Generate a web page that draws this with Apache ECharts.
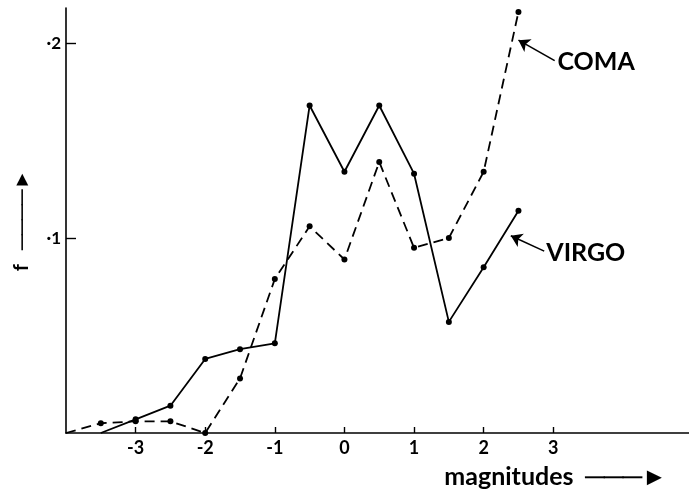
<!DOCTYPE html>
<html>
<head>
<meta charset="utf-8">
<script src="https://cdn.jsdelivr.net/npm/echarts@6/dist/echarts.min.js"></script>
<style>
  html, body { margin: 0; padding: 0; background: #fff; }
  #main { width: 689px; height: 492px; }
</style>
</head>
<body>
<div id="main"></div>
<script>
// magnitude bins and fraction f for each cluster
var virgoMag = [-3.5, -3, -2.5, -2, -1.5, -1, -0.5, 0, 0.5, 1, 1.5, 2, 2.5];
var virgoF = [0, 0.007, 0.014, 0.038, 0.043, 0.046, 0.168, 0.134, 0.168, 0.133, 0.057, 0.085, 0.114];
var comaMag = [-4, -3.5, -3, -2.5, -2, -1.5, -1, -0.5, 0, 0.5, 1, 1.5, 2, 2.5];
var comaF = [0, 0.005, 0.006, 0.006, 0, 0.028, 0.079, 0.106, 0.089, 0.139, 0.095, 0.1, 0.134, 0.216];
var xTicks = [-3, -2, -1, 0, 1, 2, 3];
var yTicks = [0.1, 0.2];

var font = 'Lato';

function pairs(xs, ys) {
    return xs.map(function (x, i) {
        var item = { value: [x, ys[i]] };
        if (i === 0) item.symbol = 'none';   // curve starts on the axis, no dot
        return item;
    });
}

var arrowLine = {
    silent: true,
    symbol: ['none', 'arrow'],
    symbolSize: 11,
    label: { show: false },
    lineStyle: { color: '#000', type: 'solid', width: 1.6 },
    emphasis: { disabled: true }
};

var tagLabel = {
    show: true,
    position: 'right',
    distance: 0,
    color: '#000',
    fontFamily: font,
    fontWeight: 'bold',
    fontSize: 25,
    formatter: '{b}'
};

var option = {
    animation: false,
    backgroundColor: '#fff',
    grid: { left: 66, right: 0, top: 8, bottom: 59, containLabel: false, outerBoundsMode: 'none' },
    xAxis: {
        type: 'value',
        min: -4,
        max: 4.95,
        interval: 1,
        splitLine: { show: false },
        axisLine: { onZero: false, lineStyle: { color: '#000', width: 1.6 } },
        axisTick: { inside: true, length: 6, customValues: xTicks, lineStyle: { color: '#000', width: 1.4 } },
        axisLabel: {
            customValues: xTicks,
            color: '#000', fontFamily: font, fontWeight: 'bold', fontSize: 18, margin: 6,
            formatter: function (v) { return v < 0 ? '-' + Math.abs(v) : String(v); }
        },
        name: 'magnitudes  \u2500\u2500\u2500\u25BA',
        nameLocation: 'middle',
        nameGap: 31,
        nameTextStyle: {
            color: '#000', fontFamily: font, fontSize: 25, fontWeight: 'bold',
            padding: [0, 0, 0, 356]
        }
    },
    yAxis: {
        type: 'value',
        min: 0,
        max: 0.218,
        interval: 0.1,
        splitLine: { show: false },
        axisLine: { onZero: false, lineStyle: { color: '#000', width: 1.6 } },
        axisTick: { inside: true, length: 10, customValues: yTicks, lineStyle: { color: '#000', width: 1.4 } },
        axisLabel: {
            customValues: yTicks,
            color: '#000', fontFamily: font, fontWeight: 'bold', fontSize: 17, margin: 5,
            formatter: function (v) { return '\u00B7' + Math.round(v * 10); }
        },
        name: 'f   \u2500\u2500\u2500\u2500\u25BA',
        nameLocation: 'middle',
        nameRotate: 90,
        nameGap: 34,
        nameTextStyle: { color: '#000', fontFamily: font, fontSize: 20, fontWeight: 'bold' }
    },
    series: [
        {
            name: 'VIRGO',
            type: 'line',
            data: pairs(virgoMag, virgoF),
            symbol: 'circle',
            symbolSize: 6,
            itemStyle: { color: '#000' },
            lineStyle: { color: '#000', width: 1.8, type: 'solid' },
            markLine: Object.assign({ data: [[{ coord: [2.87, 0.0933] }, { coord: [2.39, 0.1012] }]] }, arrowLine),
            markPoint: {
                silent: true,
                symbol: 'circle',
                symbolSize: 0,
                label: tagLabel,
                data: [{ name: 'VIRGO', coord: [2.9, 0.0925] }]
            }
        },
        {
            name: 'COMA',
            type: 'line',
            data: pairs(comaMag, comaF),
            symbol: 'circle',
            symbolSize: 6,
            itemStyle: { color: '#000' },
            lineStyle: { color: '#000', width: 1.8, type: [10, 6] },
            markLine: Object.assign({ data: [[{ coord: [3.02, 0.191] }, { coord: [2.5, 0.2015] }]] }, arrowLine),
            markPoint: {
                silent: true,
                symbol: 'circle',
                symbolSize: 0,
                label: tagLabel,
                data: [{ name: 'COMA', coord: [3.06, 0.1905] }]
            }
        }
    ]
};

var chart = echarts.init(document.getElementById('main'));
chart.setOption(option);
</script>
</body>
</html>
